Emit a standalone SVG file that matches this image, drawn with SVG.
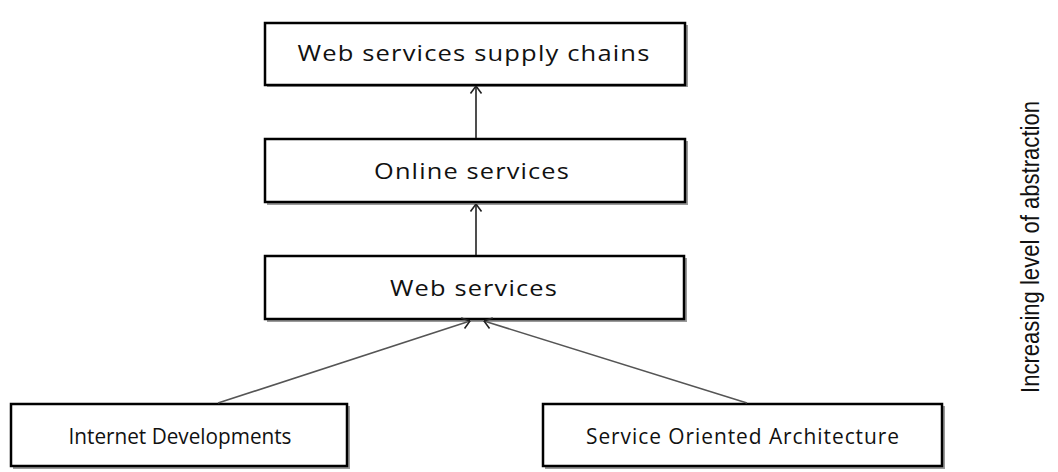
<svg xmlns="http://www.w3.org/2000/svg" width="1058" height="472" viewBox="0 0 1058 472">
<style>
.box{fill:#fff;stroke:#000;stroke-width:2.5}
.sh{fill:none;stroke:#9a9a9a;stroke-width:2}
.lbl{font-family:"Open Sans","Liberation Sans",sans-serif;font-size:22px;letter-spacing:1px;fill:#111;text-anchor:middle}
.tight{letter-spacing:0}
.c{fill:none;stroke:#222;stroke-width:1.6}
.cd{fill:none;stroke:#555;stroke-width:1.6}
</style>
<defs>
<marker id="ah" viewBox="0 0 10 14" refX="9.5" refY="7" markerWidth="10" markerHeight="14" markerUnits="userSpaceOnUse" orient="auto">
<path d="M2,1.5 L9.5,7 L2,12.5" fill="none" stroke="#222" stroke-width="1.6"/>
</marker>
</defs>
<rect width="1058" height="472" fill="#fff"/>
<g id="n1"><path class="sh" d="M267,86 H687 V25"/><rect class="box" x="265" y="23" width="420" height="62"/><text class="lbl" x="474" y="61" textLength="353" lengthAdjust="spacingAndGlyphs">Web services supply chains</text></g>
<g id="n2"><path class="sh" d="M267,204 H687 V141"/><rect class="box" x="265" y="139" width="420" height="63"/><text class="lbl" x="472" y="179" textLength="196" lengthAdjust="spacingAndGlyphs">Online services</text></g>
<g id="n3"><path class="sh" d="M267,321 H686 V258"/><rect class="box" x="265" y="256" width="419" height="63"/><text class="lbl" x="474" y="296" textLength="168" lengthAdjust="spacingAndGlyphs">Web services</text></g>
<g id="n4"><path class="sh" d="M13,468 H349 V406"/><rect class="box" x="11" y="404" width="336" height="62"/><text class="lbl tight" x="180" y="444" textLength="223" lengthAdjust="spacingAndGlyphs">Internet Developments</text></g>
<g id="n5"><path class="sh" d="M545,468 H944 V406"/><rect class="box" x="543" y="404" width="399" height="62"/><text class="lbl" x="743" y="444" textLength="314" lengthAdjust="spacingAndGlyphs">Service Oriented Architecture</text></g>
<g id="connectors">
<line class="c" x1="476" y1="138" x2="476" y2="86" marker-end="url(#ah)"/>
<line class="c" x1="476" y1="255" x2="476" y2="204" marker-end="url(#ah)"/>
<line class="cd" x1="218" y1="403" x2="470" y2="321" marker-end="url(#ah)"/>
<line class="cd" x1="747" y1="403" x2="484" y2="321" marker-end="url(#ah)"/>
</g>
<text x="1039" y="247" transform="rotate(-90 1039 247)" font-family="'Liberation Sans Narrow','Liberation Sans',sans-serif" font-size="25" fill="#111" text-anchor="middle" textLength="292" lengthAdjust="spacingAndGlyphs">Increasing level of abstraction</text>
</svg>
